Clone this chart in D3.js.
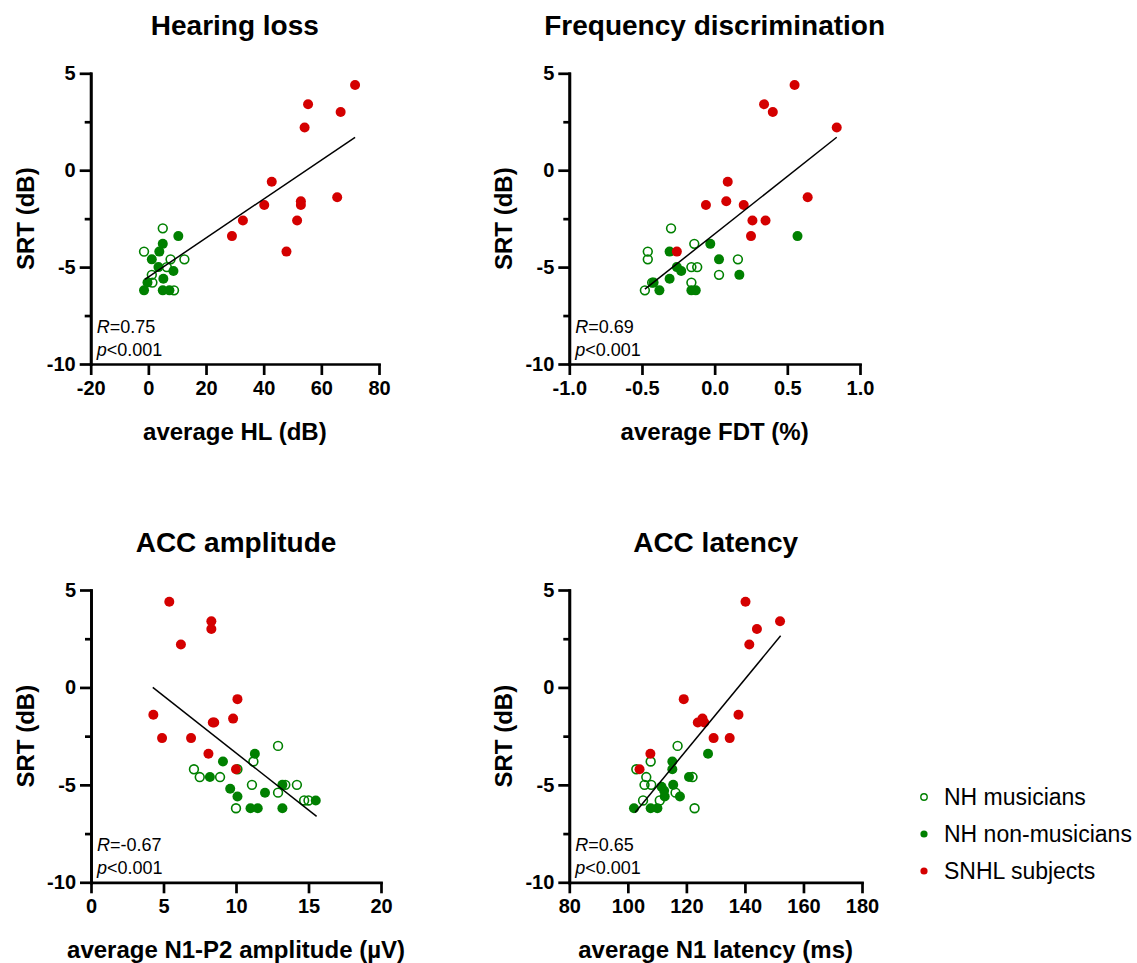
<!DOCTYPE html>
<html>
<head>
<meta charset="utf-8">
<script src="https://cdn.jsdelivr.net/npm/d3@7"></script>
<style>
  body { margin: 0; background: #fff; }
  svg { display: block; font-family: "Liberation Sans", Arial, sans-serif; }
</style>
</head>
<body>
<svg id="chart" width="1137" height="963"></svg>
<script>
// tick values
const hlTicks = [-20, 0, 20, 40, 60, 80];
const fdtTicks = [-1.0, -0.5, 0.0, 0.5, 1.0];
const ampTicks = [0, 5, 10, 15, 20];
const latTicks = [80, 100, 120, 140, 160, 180];
const srtTicks = [5, 0, -5, -10];
const srtMinorTicks = [2.5, -2.5, -7.5];

// [x, SRT] pairs
const hlMusicians = [[5.0, -3.0], [-1.5, -4.2], [7.7, -4.6], [12.5, -4.6], [6.4, -5.0], [1.2, -5.4], [1.4, -5.8], [8.9, -6.2]];
const hlNonMusicians = [[10.4, -3.4], [5.0, -3.8], [3.8, -4.2], [1.2, -4.6], [3.5, -5.0], [8.7, -5.2], [5.2, -5.6], [-0.3, -5.8], [-1.5, -6.2], [5.0, -6.2], [7.3, -6.2]];
const hlSnhl = [[71.7, 4.4], [55.4, 3.4], [66.7, 3.0], [54.2, 2.2], [42.8, -0.6], [40.2, -1.8], [52.9, -1.6], [52.9, -1.8], [65.5, -1.4], [32.8, -2.6], [51.6, -2.6], [29.0, -3.4], [47.9, -4.2]];

const fdtMusicians = [[-0.30, -3.0], [-0.46, -4.2], [-0.46, -4.6], [-0.14, -3.8], [0.16, -4.6], [-0.16, -5.0], [-0.12, -5.0], [0.03, -5.4], [-0.16, -5.8], [-0.43, -5.8], [-0.48, -6.2]];
const fdtNonMusicians = [[-0.03, -3.8], [-0.31, -4.2], [0.03, -4.6], [-0.26, -5.0], [-0.23, -5.2], [0.17, -5.4], [-0.31, -5.6], [-0.42, -5.8], [-0.38, -6.2], [-0.16, -6.2], [-0.13, -6.2], [0.57, -3.4]];
const fdtSnhl = [[0.55, 4.4], [0.34, 3.4], [0.40, 3.0], [0.84, 2.2], [0.09, -0.6], [0.64, -1.4], [0.08, -1.6], [-0.06, -1.8], [0.20, -1.8], [0.26, -2.6], [0.35, -2.6], [0.25, -3.4], [-0.26, -4.2]];

const ampMusicians = [[12.9, -3.0], [11.2, -3.8], [7.1, -4.2], [7.5, -4.6], [8.9, -4.6], [10.1, -4.2], [11.1, -5.0], [10.0, -6.2], [13.4, -5.0], [14.2, -5.0], [12.9, -5.4], [14.7, -5.8], [15.0, -5.8]];
const ampNonMusicians = [[11.3, -3.4], [9.1, -3.8], [8.2, -4.6], [9.6, -5.2], [10.1, -5.6], [12.0, -5.4], [11.0, -6.2], [11.5, -6.2], [13.2, -5.0], [13.2, -6.2], [15.5, -5.8]];
const ampSnhl = [[5.4, 4.4], [8.3, 3.4], [8.3, 3.0], [6.2, 2.2], [10.1, -0.6], [4.3, -1.4], [9.8, -1.6], [8.4, -1.8], [8.5, -1.8], [4.9, -2.6], [6.9, -2.6], [8.1, -3.4], [10.0, -4.2]];

const latMusicians = [[117.0, -3.0], [107.8, -3.8], [102.9, -4.2], [106.3, -4.6], [105.7, -5.0], [108.0, -5.0], [122.1, -4.6], [116.3, -5.4], [105.2, -5.8], [110.9, -5.8], [122.8, -6.2]];
const latNonMusicians = [[115.2, -3.8], [115.2, -4.2], [120.9, -4.6], [111.5, -5.1], [112.4, -5.3], [115.5, -5.0], [112.6, -5.6], [117.8, -5.6], [102.1, -6.2], [107.8, -6.2], [110.1, -6.2], [127.4, -3.4]];
const latSnhl = [[140.2, 4.4], [152.0, 3.4], [144.1, 3.0], [141.5, 2.2], [119.1, -0.6], [123.9, -1.8], [125.5, -1.6], [126.1, -1.8], [137.8, -1.4], [129.3, -2.6], [134.8, -2.6], [107.7, -3.4], [104.0, -4.2]];

// regression line end points
const hlFit = [[-1.2, -5.63], [71.7, 1.70]];
const fdtFit = [[-0.48, -6.14], [0.84, 1.70]];
const ampFit = [[4.26, 0.0], [15.56, -6.62]];
const latFit = [[102.5, -6.42], [152.2, 2.65]];

const rValues = ["0.75", "0.69", "-0.67", "0.65"];
const pValue = "<0.001";

const groupNames = ["NH musicians", "NH non-musicians", "SNHL subjects"];

const RED = "#d40000";
const GREEN = "#008000";
const FONT = '"Liberation Sans", Arial, sans-serif';

// plain hyphen for negative numbers, like the original figure
const locale = d3.formatLocale({ decimal: ".", thousands: ",", grouping: [3], currency: ["", ""], minus: "-" });
const intFmt = locale.format("d");
const oneDecFmt = locale.format(".1f");

const svg = d3.select("#chart");

const panels = [
  { title: "Hearing loss", xLabel: "average HL (dB)", ticks: hlTicks, fmt: intFmt,
    groups: [hlMusicians, hlNonMusicians, hlSnhl], fit: hlFit, r: rValues[0],
    left: 90.7, right: 379, top: 73.3, bottom: 364 },
  { title: "Frequency discrimination", xLabel: "average FDT (%)", ticks: fdtTicks, fmt: oneDecFmt,
    groups: [fdtMusicians, fdtNonMusicians, fdtSnhl], fit: fdtFit, r: rValues[1],
    left: 569.3, right: 860, top: 73.3, bottom: 364 },
  { title: "ACC amplitude", xLabel: "average N1-P2 amplitude (µV)", ticks: ampTicks, fmt: intFmt,
    groups: [ampMusicians, ampNonMusicians, ampSnhl], fit: ampFit, r: rValues[2],
    left: 91, right: 381, top: 590, bottom: 882.3 },
  { title: "ACC latency", xLabel: "average N1 latency (ms)", ticks: latTicks, fmt: intFmt,
    groups: [latMusicians, latNonMusicians, latSnhl], fit: latFit, r: rValues[3],
    left: 569.3, right: 862, top: 590, bottom: 882.3 }
];

function styleAxis(g) {
  g.attr("font-family", FONT).attr("font-size", 20).attr("font-weight", "bold");
  g.select(".domain").attr("stroke", "#000").attr("stroke-width", 2.7).attr("stroke-linecap", "square");
  g.selectAll(".tick line").attr("stroke", "#000").attr("stroke-width", 2.7);
  g.selectAll(".tick text").attr("fill", "#000");
}

function drawMarkers(g, data, x, y, kind) {
  const sel = g.append("g").selectAll("circle")
    .data(data)
    .enter()
    .append("circle")
    .attr("cx", (d) => x(d[0]))
    .attr("cy", (d) => y(d[1]));
  if (kind === 0) {
    sel.attr("r", 4.4).attr("fill", "none").attr("stroke", GREEN).attr("stroke-width", 1.6);
  } else {
    sel.attr("r", 5).attr("fill", kind === 1 ? GREEN : RED);
  }
}

panels.forEach((p) => {
  const x = d3.scaleLinear()
    .domain([p.ticks[0], p.ticks[p.ticks.length - 1]])
    .range([p.left, p.right]);
  const y = d3.scaleLinear().domain([-10, 5]).range([p.bottom, p.top]);

  // x axis
  const xAxis = d3.axisBottom(x).tickValues(p.ticks).tickFormat(p.fmt)
    .tickSize(11).tickSizeOuter(0).tickPadding(6);
  svg.append("g")
    .attr("transform", `translate(0,${p.bottom})`)
    .call(xAxis)
    .call(styleAxis);

  // y axis, minor ticks first
  svg.append("g")
    .attr("transform", `translate(${p.left},0)`)
    .call(d3.axisLeft(y).tickValues(srtMinorTicks).tickFormat("").tickSize(6).tickSizeOuter(0))
    .call(styleAxis);
  svg.append("g")
    .attr("transform", `translate(${p.left},0)`)
    .call(d3.axisLeft(y).tickValues(srtTicks).tickFormat(intFmt)
      .tickSize(11).tickSizeOuter(0).tickPadding(4))
    .call(styleAxis);

  // title
  svg.append("text")
    .attr("x", (p.left + p.right) / 2)
    .attr("y", p.top - 38)
    .attr("text-anchor", "middle")
    .attr("font-size", 28)
    .attr("font-weight", "bold")
    .text(p.title);

  // axis labels
  svg.append("text")
    .attr("x", (p.left + p.right) / 2)
    .attr("y", p.bottom + 76)
    .attr("text-anchor", "middle")
    .attr("font-size", 24)
    .attr("font-weight", "bold")
    .text(p.xLabel);
  svg.append("text")
    .attr("transform", `translate(${p.left - 57},${(p.top + p.bottom) / 2}) rotate(-90)`)
    .attr("text-anchor", "middle")
    .attr("font-size", 24)
    .attr("font-weight", "bold")
    .text("SRT (dB)");

  // points
  const marks = svg.append("g");
  p.groups.forEach((data, i) => drawMarkers(marks, data, x, y, i));

  // fitted line
  svg.append("path")
    .attr("d", d3.line().x((d) => x(d[0])).y((d) => y(d[1]))(p.fit))
    .attr("fill", "none")
    .attr("stroke", "#000")
    .attr("stroke-width", 1.5);

  // stats
  const rText = svg.append("text")
    .attr("x", p.left + 6).attr("y", p.bottom - 31)
    .attr("font-size", 18);
  rText.append("tspan").attr("font-style", "italic").text("R");
  rText.append("tspan").text("=" + p.r);
  const pText = svg.append("text")
    .attr("x", p.left + 6).attr("y", p.bottom - 8)
    .attr("font-size", 18);
  pText.append("tspan").attr("font-style", "italic").text("p");
  pText.append("tspan").text(pValue);
});

// legend
const legend = svg.append("g").attr("transform", "translate(924,797)");
groupNames.forEach((name, i) => {
  const row = legend.append("g").attr("transform", `translate(0,${i * 37})`);
  if (i === 0) {
    row.append("circle").attr("r", 3.2).attr("fill", "none")
      .attr("stroke", GREEN).attr("stroke-width", 1.4);
  } else {
    row.append("circle").attr("r", 3.6).attr("fill", i === 1 ? GREEN : RED);
  }
  row.append("text")
    .attr("x", 20)
    .attr("y", 7.5)
    .attr("font-size", 23)
    .text(name);
});
</script>
</body>
</html>
